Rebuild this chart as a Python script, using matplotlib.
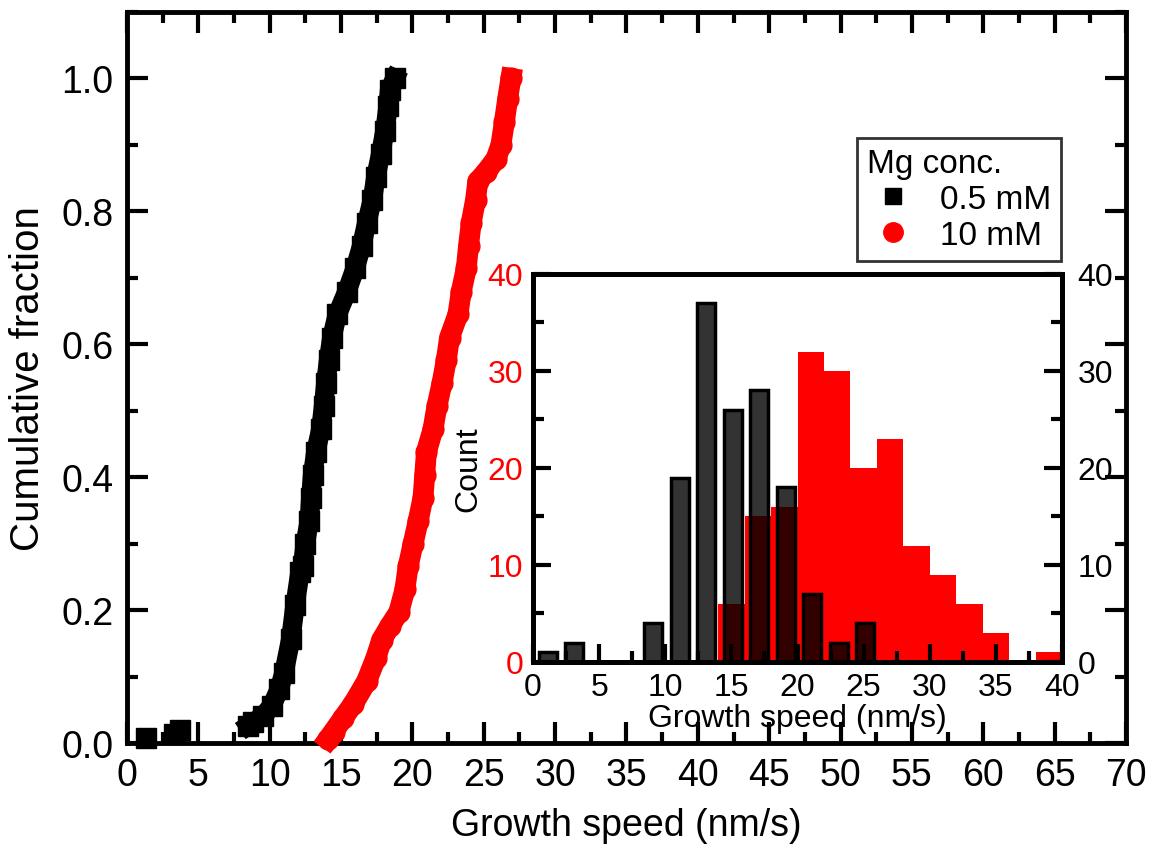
import matplotlib
matplotlib.use('Agg')
import matplotlib.pyplot as plt
from matplotlib.lines import Line2D
from matplotlib.ticker import MultipleLocator

plt.rcParams['font.family'] = ['Liberation Sans', 'DejaVu Sans']

# cumulative fraction, 0.5 mM
low_x = [1.3, 3.3, 3.7]
low_f = [0.007, 0.014, 0.020]
blk_x = [8.5, 8.85, 9.56, 10.14, 10.67, 11.0, 11.47, 11.77, 12.12, 12.3, 12.49,
         12.77, 12.88, 13.0, 13.23, 13.58, 13.77, 13.93, 14.12, 14.35, 14.74,
         15.4, 15.98, 16.44, 16.8, 17.19, 17.44, 17.77, 18.07, 18.3, 18.4, 18.77]
blk_f = [0.026, 0.031, 0.041, 0.056, 0.081, 0.106, 0.156, 0.207, 0.257, 0.266, 0.300,
         0.334, 0.369, 0.403, 0.438, 0.472, 0.507, 0.541, 0.576, 0.610, 0.645,
         0.679, 0.714, 0.748, 0.783, 0.817, 0.852, 0.886, 0.921, 0.959, 0.983, 1.0]

# cumulative fraction, 10 mM
red_x = [14.1, 14.47, 15.16, 15.86, 16.79, 17.44, 17.84, 18.42, 19.05, 19.47, 19.7,
         20.05, 20.4, 20.74, 20.86, 20.98, 21.44, 21.72, 22.07, 22.37, 22.6, 23.19,
         23.42, 23.77, 23.93, 24.12, 24.42, 24.58, 25.16, 25.86, 26.2, 26.44, 26.67, 26.9]
red_f = [0.006, 0.017, 0.038, 0.059, 0.093, 0.128, 0.155, 0.176, 0.197, 0.231, 0.266,
         0.300, 0.334, 0.369, 0.403, 0.438, 0.472, 0.507, 0.541, 0.576, 0.610, 0.645,
         0.679, 0.714, 0.748, 0.783, 0.817, 0.845, 0.859, 0.879, 0.900, 0.934, 0.969, 1.0]

# inset histograms
blk_centers = [1.1, 3.1, 9.1, 11.1, 13.1, 15.1, 17.1, 19.1, 21.1, 23.1, 25.1]
blk_counts = [1, 2, 4, 19, 37, 26, 28, 18, 7, 2, 4]
red_edges = [14, 16, 18, 20, 22, 24, 26, 28, 30, 32, 34, 36, 38, 40]
red_counts = [6, 15, 16, 32, 30, 20, 23, 12, 9, 6, 3, 0, 1]

fig = plt.figure(figsize=(11.56, 8.62), dpi=100)
ax = fig.add_axes([0.1099, 0.1369, 0.8641, 0.8481])

ax.plot(low_x, low_f, 's', color='black', ms=14, clip_on=False, zorder=3)
ax.plot(blk_x, blk_f, 's-', color='black', ms=14, lw=14, clip_on=False, zorder=3)
ax.plot(red_x, red_f, 'o-', color='red', ms=15, lw=15, clip_on=False, zorder=3)

ax.set_xlim(0, 70)
ax.set_ylim(0, 1.1)
ax.xaxis.set_major_locator(MultipleLocator(5))
ax.xaxis.set_minor_locator(MultipleLocator(2.5))
ax.yaxis.set_minor_locator(MultipleLocator(0.1))
ax.set_yticks([0, 0.2, 0.4, 0.6, 0.8, 1.0])
ax.set_yticklabels(['0.0', '0.2', '0.4', '0.6', '0.8', '1.0'])
ax.tick_params(which='both', direction='in', top=True, right=True, width=3,
               labelsize=27, pad=10)
ax.tick_params(which='major', length=15)
ax.tick_params(which='minor', length=8)
for s in ax.spines.values():
    s.set_linewidth(3.5)
ax.set_xlabel('Growth speed (nm/s)', fontsize=27, labelpad=10)
ax.set_ylabel('Cumulative fraction', fontsize=29, labelpad=10)

handles = [Line2D([], [], marker='s', color='black', ls='none', ms=12),
           Line2D([], [], marker='o', color='red', ls='none', ms=14)]
leg = fig.legend(handles, ['0.5 mM', '10 mM'], title='Mg conc.', loc='upper left',
                 bbox_to_anchor=(0.741, 0.839), fontsize=24, title_fontsize=24,
                 frameon=True, fancybox=False, edgecolor='black',
                 handletextpad=0.6, borderpad=0.3, labelspacing=0.15,
                 handlelength=1.6, borderaxespad=0)
leg._legend_box.align = 'left'
leg.get_frame().set_linewidth(2)

# inset
ins = fig.add_axes([0.4611, 0.2309, 0.4576, 0.4501])
ins.stairs(red_counts, red_edges, fill=True, color='red', lw=0, zorder=1)
ins.bar(blk_centers, blk_counts, width=1.36, color=(0, 0, 0, 0.8),
        edgecolor='black', lw=2.5, zorder=2)
ins.set_xlim(0, 40)
ins.set_ylim(0, 40)
ins.xaxis.set_major_locator(MultipleLocator(5))
ins.xaxis.set_minor_locator(MultipleLocator(2.5))
ins.yaxis.set_major_locator(MultipleLocator(10))
ins.yaxis.set_minor_locator(MultipleLocator(5))
ins.tick_params(which='both', direction='in', width=3, labelsize=23, pad=7)
ins.tick_params(which='major', length=13)
ins.tick_params(which='minor', length=8)
ins.tick_params(axis='y', labelcolor='red')
for s in ins.spines.values():
    s.set_linewidth(3.5)
ins.set_xlabel('Growth speed (nm/s)', fontsize=23, labelpad=1)
ins.set_ylabel('Count', fontsize=23, labelpad=3)

ins2 = ins.twinx()
ins2.set_ylim(0, 40)
ins2.yaxis.set_major_locator(MultipleLocator(10))
ins2.yaxis.set_minor_locator(MultipleLocator(5))
ins2.tick_params(which='both', direction='in', width=3, labelsize=23, pad=11)
ins2.tick_params(which='major', length=13)
ins2.tick_params(which='minor', length=8)
for s in ins2.spines.values():
    s.set_linewidth(3.5)

fig.savefig('out.png', dpi=100)
